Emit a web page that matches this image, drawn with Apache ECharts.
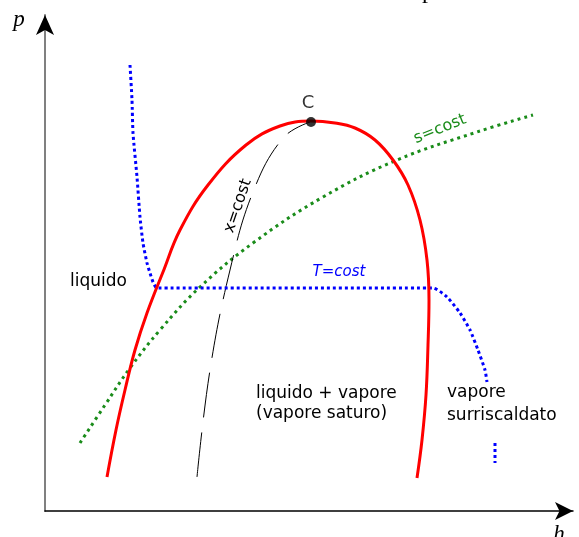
<!DOCTYPE html>
<html>
<head>
<meta charset="utf-8">
<script src="https://cdn.jsdelivr.net/npm/echarts@6/dist/echarts.min.js"></script>
<style>
html,body{margin:0;padding:0;background:#fff;}
#c{width:579px;height:537px;}
</style>
</head>
<body>
<div id="c"></div>
<script>
// Data in arbitrary units: h (enthalpy, horizontal) and p (pressure, vertical)
var hRange = [0, 528];
var pRange = [0, 496];

// Saturation dome (red)
var domeH = [62,71,80,90,102,118,135,163,201,235,266,290,310,330,348,363,375,382,384,383,381,377,372];
var domeP = [34,81,121,161,198,239,281,326,366,385,390,388,383,371,351,326,291,251,211,166,116,71,33];

// Critical point C
var critH = [266];
var critP = [389];

// Isotherm T=cost (blue, dotted)
var isoTH = [85,87,88,92,95,98,102,105,108,112,388,402,415,425,433,440,442];
var isoTP = [446,411,378,334,294,268,248,238,229,223,223,214,198,181,161,141,129];
// Isotherm continuation (lower piece)
var isoT2H = [450,450];
var isoT2P = [68,48];

// Isentrope s=cost (green, dotted)
var isoSH = [35,60,85,115,155,208,278,352,432,488];
var isoSP = [68,106,143,181,224,268,314,351,379,396];

// Constant quality x=cost (black, dashed)
var isoXH = [152,165,185,208,238,265];
var isoXP = [34,141,241,319,373,389];

function zip(a,b){ return a.map(function(v,i){ return [v,b[i]]; }); }

var chart = echarts.init(document.getElementById('c'), null, {renderer:'canvas'});
var sans = 'DejaVu Sans';

var hiddenAxisParts = {axisTick:{show:false}, axisLabel:{show:false}, splitLine:{show:false}};

chart.setOption({
  animation: false,
  backgroundColor: '#fff',
  grid: {left:45, right:6, top:15, bottom:26},
  xAxis: Object.assign({
    type:'value', min:hRange[0], max:hRange[1],
    axisLine:{show:true, onZero:false, symbol:['none','arrow'], symbolSize:[13.5,18],
      lineStyle:{color:'#000', width:1.5}}
  }, hiddenAxisParts),
  yAxis: [
    Object.assign({
      type:'value', min:pRange[0], max:pRange[1], position:'left', offset:0,
      axisLine:{show:true, onZero:false, lineStyle:{color:'#808080', width:2}}
    }, hiddenAxisParts),
    Object.assign({
      type:'value', min:pRange[0], max:pRange[1], position:'left', offset:0,
      axisLine:{show:true, onZero:false, symbol:['none','arrow'], symbolSize:[13.5,20],
        lineStyle:{color:'#000', width:0}}
    }, hiddenAxisParts)
  ],
  series: [
    {type:'line', data: zip(isoSH, isoSP), smooth:0.4, showSymbol:false,
      lineStyle:{color:'#1a8c1a', width:3, type:[3,4], cap:'butt'}},
    {type:'line', data: zip(isoXH, isoXP), smooth:0.4, showSymbol:false,
      lineStyle:{color:'#000', width:1, type:[45,15]}},
    {type:'line', data: zip(isoTH, isoTP), smooth:0.2, showSymbol:false,
      lineStyle:{color:'#0000ff', width:3, type:[3,3], cap:'butt'}},
    {type:'line', data: zip(isoT2H, isoT2P), showSymbol:false,
      lineStyle:{color:'#0000ff', width:3, type:[3,3], cap:'butt'}},
    {type:'line', data: zip(domeH, domeP), smooth:0.4, showSymbol:false,
      lineStyle:{color:'#ff0000', width:3}},
    {type:'scatter', data: zip(critH, critP), symbolSize:10, itemStyle:{color:'#000'}, z:5,
      label:{show:true, formatter:'C', position:'top', distance:5, offset:[-3,0],
        fontFamily:sans, fontSize:18, color:'#000'}}
  ],
  graphic: [
    {type:'text', x:19, y:20, style:{text:'p', font:'italic 23px "Liberation Serif"', fill:'#000', align:'center', verticalAlign:'middle'}},
    {type:'text', x:428, y:-8, style:{text:'p', font:'24px "Liberation Serif"', fill:'#000', align:'center', verticalAlign:'middle'}},
    {type:'text', x:559, y:535, style:{text:'h', font:'italic 23px "Liberation Serif"', fill:'#000', align:'center', verticalAlign:'middle'}},
    {type:'text', x:70, y:282, style:{text:'liquido', font:'17px "DejaVu Sans"', fill:'#000', align:'left', verticalAlign:'middle'}},
    {type:'text', x:256, y:394, style:{text:'liquido + vapore', font:'17px "DejaVu Sans"', fill:'#000', align:'left', verticalAlign:'middle'}},
    {type:'text', x:256, y:414, style:{text:'(vapore saturo)', font:'17px "DejaVu Sans"', fill:'#000', align:'left', verticalAlign:'middle'}},
    {type:'text', x:447, y:393, style:{text:'vapore', font:'17px "DejaVu Sans"', fill:'#000', align:'left', verticalAlign:'middle'}},
    {type:'text', x:447, y:416, style:{text:'surriscaldato', font:'17px "DejaVu Sans"', fill:'#000', align:'left', verticalAlign:'middle'}},
    {type:'text', x:339, y:272, style:{text:'T=cost', font:'italic 15px "DejaVu Sans"', fill:'#0000ff', align:'center', verticalAlign:'middle'}},
    {type:'text', x:440, y:129, rotation:22*Math.PI/180, style:{text:'s=cost', font:'16px "DejaVu Sans"', fill:'#1a8c1a', align:'center', verticalAlign:'middle'}},
    {type:'text', x:238, y:206, rotation:71*Math.PI/180, style:{text:'x=cost', font:'16px "DejaVu Sans"', fill:'#000', align:'center', verticalAlign:'middle'}}
  ]
});
</script>
</body>
</html>
